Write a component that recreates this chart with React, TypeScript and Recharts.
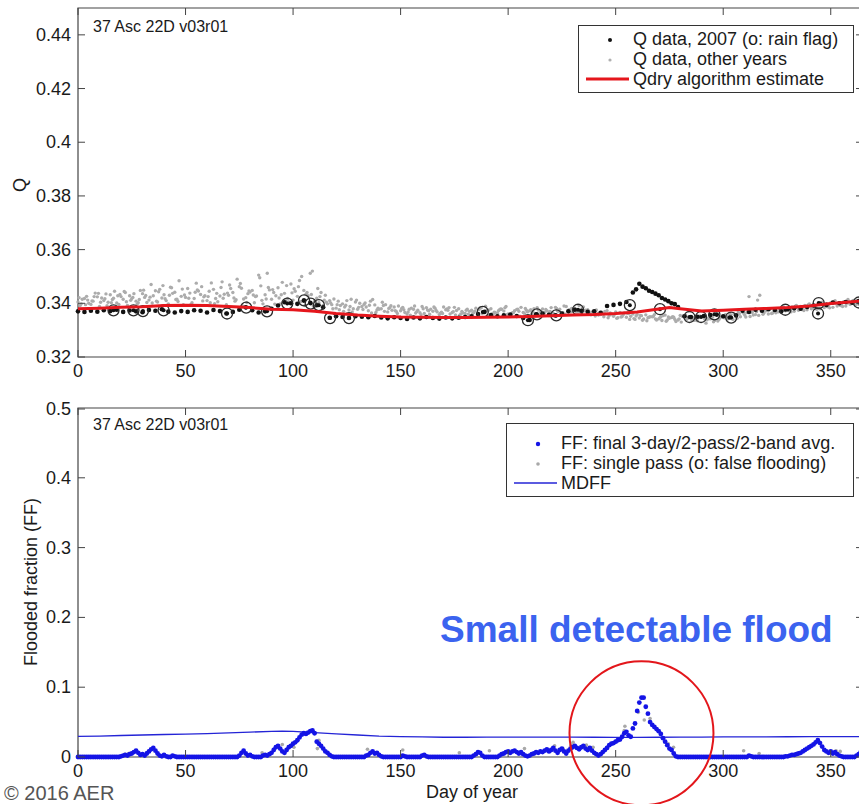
import React from 'react';
import { ComposedChart, Scatter, XAxis, YAxis, ReferenceArea, ReferenceDot, Legend } from 'recharts';

const FONT = '"Liberation Sans", Arial, Helvetica, sans-serif';
const AXIS = '#444';
const INK = '#1a1a1a';
const PLOT_RIGHT = 863;
const PLOT_TOP = 8;

const DAY_TICKS = [0, 50, 100, 150, 200, 250, 300, 350];
const Q_TICKS = [0.32, 0.34, 0.36, 0.38, 0.4, 0.42, 0.44];
const FF_TICKS = [0, 0.1, 0.2, 0.3, 0.4, 0.5];

// Qdry algorithm estimate [day, Q]
const qdry: [number, number][] = [
  [0, 0.338], [10, 0.3382], [20, 0.3385], [30, 0.3387], [40, 0.3392], [50, 0.3393], [60, 0.3392],
  [70, 0.3388], [80, 0.3384], [90, 0.3378], [100, 0.3376], [110, 0.337], [120, 0.3362], [130, 0.3356],
  [140, 0.3352], [150, 0.3349], [160, 0.3348], [170, 0.3347], [180, 0.3347], [190, 0.3348], [200, 0.3349],
  [210, 0.3351], [220, 0.3354], [230, 0.3356], [240, 0.3358], [250, 0.3362], [260, 0.3368], [270, 0.3379],
  [275, 0.3384], [280, 0.338], [290, 0.3371], [300, 0.3374], [310, 0.3378], [320, 0.3381], [330, 0.3384],
  [340, 0.339], [350, 0.3399], [360, 0.3406], [365, 0.3409],
];

// Q data, 2007 [day, Q]
const q2007: [number, number][] = [
  [0, 0.337], [3, 0.3368], [6, 0.3372], [9, 0.3369], [12, 0.3374], [15, 0.3371], [18, 0.3376], [21, 0.3368],
  [24, 0.3373], [27, 0.337], [30, 0.3367], [33, 0.3375], [36, 0.3372], [39, 0.3378], [42, 0.3369], [45, 0.3366],
  [48, 0.3371], [51, 0.3368], [54, 0.3374], [57, 0.3372], [60, 0.3366], [63, 0.3375], [66, 0.3371], [69, 0.3362],
  [72, 0.3368], [75, 0.3376], [78, 0.3385], [81, 0.3374], [84, 0.3366], [87, 0.337], [90, 0.338], [93, 0.3392],
  [96, 0.3404], [99, 0.34], [102, 0.3398], [105, 0.341], [108, 0.3402], [111, 0.3393], [114, 0.3385], [117, 0.3346],
  [120, 0.3352], [123, 0.3349], [126, 0.3345], [129, 0.3352], [132, 0.335], [135, 0.3348], [138, 0.3353], [141, 0.3347],
  [144, 0.3344], [147, 0.3348], [150, 0.3345], [153, 0.3342], [156, 0.3347], [159, 0.3344], [162, 0.3349], [165, 0.3345],
  [168, 0.3343], [171, 0.3347], [174, 0.3344], [177, 0.3346], [180, 0.3349], [183, 0.3352], [186, 0.336], [189, 0.3368],
  [192, 0.3356], [195, 0.3352], [198, 0.3355], [201, 0.3358], [204, 0.3353], [207, 0.3345], [210, 0.3338], [213, 0.3359],
  [216, 0.3362], [219, 0.3357], [222, 0.3355], [225, 0.3362], [228, 0.337], [231, 0.3376], [234, 0.3372], [237, 0.3368],
  [240, 0.337], [243, 0.3365], [246, 0.339], [249, 0.3394], [252, 0.3398], [255, 0.3405], [258, 0.344], [259.5, 0.3452],
  [261, 0.3473], [262.5, 0.3462], [264, 0.3456], [265.5, 0.3447], [267, 0.3442], [268.5, 0.3436], [270, 0.343],
  [271.5, 0.342], [273, 0.3414], [274.5, 0.3408], [276, 0.34], [277.5, 0.3397], [279, 0.3386], [282, 0.3352],
  [285, 0.3349], [288, 0.335], [291, 0.3353], [294, 0.3356], [297, 0.3358], [300, 0.3352], [303, 0.3347], [306, 0.3355],
  [309, 0.3372], [312, 0.3368], [315, 0.3376], [318, 0.3372], [321, 0.3378], [324, 0.3375], [327, 0.337], [330, 0.3378],
  [333, 0.3382], [336, 0.338], [339, 0.3386], [342, 0.3392], [345, 0.3398], [348, 0.3394], [351, 0.3403], [354, 0.34],
  [357, 0.3405], [360, 0.3402], [363, 0.3408],
];

// 2007 points with rain flag (o) [day, Q]
const rainFlag: [number, number][] = [
  [16.5, 0.3374], [25.8, 0.3374], [30.2, 0.3371], [39.8, 0.3374], [69.3, 0.3362], [78.2, 0.3384], [87.9, 0.337],
  [97.3, 0.3399], [105.1, 0.3411], [108.2, 0.3399], [112, 0.3393], [117.2, 0.3345], [126, 0.3345], [188.2, 0.3368],
  [209.2, 0.3337], [213.4, 0.3359], [222.4, 0.3355], [232.5, 0.3376], [256.6, 0.3393], [270.6, 0.3378], [284.3, 0.3349],
  [289.7, 0.3349], [295.9, 0.3359], [303.7, 0.3347], [328.9, 0.3376], [344.4, 0.3401], [344.1, 0.3362], [363.1, 0.3403],
];

// Q data, other years: interleaved records, one every 3rd day, each starting on its own day
const qOtherA = [
  0.3405, 0.3418, 0.3396, 0.3424, 0.341, 0.3432, 0.3401, 0.3415, 0.3428, 0.3408,
  0.3436, 0.3412, 0.3447, 0.342, 0.3398, 0.3441, 0.3426, 0.3455, 0.3418, 0.3433,
  0.341, 0.3452, 0.3427, 0.3395, 0.344, 0.3462, 0.3421, 0.3448, 0.3505, 0.3432,
  0.3415, 0.3458, 0.3437, 0.3472, 0.3426, 0.3448, 0.3512, 0.3419, 0.3392, 0.341,
  0.3382, 0.3398, 0.3375, 0.3405, 0.3388, 0.3372, 0.3394, 0.338, 0.3368, 0.3386,
  0.3372, 0.336, 0.3378, 0.3365, 0.3384, 0.337, 0.3358, 0.3376, 0.3366, 0.338,
  0.3362, 0.3374, 0.3357, 0.3368, 0.338, 0.3363, 0.3371, 0.3355, 0.3377, 0.3366,
  0.3372, 0.336, 0.3379, 0.3368, 0.3385, 0.3364, 0.3374, 0.3382, 0.3361, 0.3376,
  0.3365, 0.3358, 0.3372, 0.3352, 0.3366, 0.3348, 0.336, 0.3345, 0.3357, 0.335,
  0.3342, 0.3356, 0.3347, 0.3338, 0.3352, 0.3344, 0.3335, 0.335, 0.3342, 0.3356,
  0.3348, 0.3362, 0.3352, 0.3368, 0.3425, 0.3358, 0.3372, 0.336, 0.3378, 0.3366,
  0.3382, 0.337, 0.3388, 0.3376, 0.3392, 0.338, 0.3398, 0.3385, 0.3402, 0.339,
  0.3408, 0.3396,
];
const qOtherB = [
  0.3392, 0.3426, 0.3408, 0.3388, 0.3435, 0.3414, 0.3396, 0.344, 0.3418, 0.3402,
  0.3422, 0.347, 0.3405, 0.3432, 0.346, 0.3415, 0.3395, 0.3438, 0.3475, 0.3409,
  0.3445, 0.3418, 0.348, 0.343, 0.3408, 0.3456, 0.3436, 0.3402, 0.3465, 0.3512,
  0.344, 0.3398, 0.3466, 0.3412, 0.3485, 0.3434, 0.352, 0.3402, 0.343, 0.3395,
  0.3408, 0.3386, 0.3415, 0.3378, 0.3396, 0.3408, 0.3375, 0.3392, 0.3384, 0.337,
  0.3385, 0.3378, 0.3364, 0.3388, 0.3372, 0.3382, 0.3367, 0.3374, 0.3385, 0.336,
  0.3378, 0.3366, 0.3384, 0.3372, 0.3358, 0.3376, 0.3388, 0.3365, 0.337, 0.3381,
  0.3362, 0.3375, 0.3366, 0.3384, 0.3371, 0.339, 0.3368, 0.3373, 0.3386, 0.3364,
  0.3375, 0.3362, 0.3355, 0.3368, 0.3351, 0.3362, 0.334, 0.3354, 0.3346, 0.3358,
  0.335, 0.3338, 0.3348, 0.3355, 0.334, 0.3346, 0.3352, 0.3326, 0.3348, 0.334,
  0.3358, 0.3345, 0.3368, 0.3356, 0.3374, 0.3412, 0.3365, 0.338, 0.337, 0.3386,
  0.3375, 0.3392, 0.3382, 0.3398, 0.3386, 0.3404, 0.3392, 0.341, 0.3396, 0.3414,
  0.3402, 0.3418,
];
const qOtherC = [
  0.3415, 0.34, 0.3438, 0.342, 0.3404, 0.3445, 0.3425, 0.3392, 0.3436, 0.3448,
  0.3403, 0.3428, 0.3452, 0.341, 0.3437, 0.3484, 0.3422, 0.3402, 0.3446, 0.3428,
  0.3476, 0.3406, 0.3434, 0.3455, 0.349, 0.3416, 0.3442, 0.3427, 0.3398, 0.345,
  0.3428, 0.3478, 0.3405, 0.3445, 0.35, 0.3428, 0.3408, 0.344, 0.3398, 0.3416,
  0.3392, 0.341, 0.338, 0.34, 0.3386, 0.3414, 0.3378, 0.3395, 0.3374, 0.339,
  0.3366, 0.3382, 0.3374, 0.3362, 0.3378, 0.3368, 0.3386, 0.336, 0.3373, 0.3364,
  0.337, 0.3382, 0.3362, 0.3375, 0.3366, 0.3378, 0.336, 0.3372, 0.3385, 0.3368,
  0.338, 0.3366, 0.3372, 0.3362, 0.3378, 0.3388, 0.337, 0.3392, 0.3374, 0.3368,
  0.3356, 0.337, 0.336, 0.3346, 0.3364, 0.3352, 0.3358, 0.3342, 0.335, 0.3338,
  0.3354, 0.3344, 0.3332, 0.3352, 0.3345, 0.3338, 0.335, 0.3343, 0.3336, 0.335,
  0.3342, 0.336, 0.335, 0.3366, 0.3356, 0.343, 0.3372, 0.3364, 0.338, 0.3372,
  0.3386, 0.3374, 0.3392, 0.338, 0.3396, 0.3384, 0.3402, 0.339, 0.3406, 0.3396,
  0.3412,
];
const qOtherD = [
  0.3398, 0.3412, 0.3425, 0.3404, 0.3391, 0.3419, 0.3433, 0.3406, 0.3422, 0.3414,
  0.3429, 0.3401, 0.3443, 0.3417, 0.3458, 0.3407, 0.3431, 0.3396, 0.345, 0.3424,
  0.3402, 0.3437, 0.3419, 0.3468, 0.3413, 0.339, 0.3446, 0.3425, 0.3411, 0.3459,
  0.3397, 0.3432, 0.3418, 0.3454, 0.3406, 0.344, 0.3389, 0.3425, 0.3404, 0.338,
  0.3376, 0.3393, 0.3368, 0.3385, 0.3401, 0.3364, 0.3382, 0.337, 0.3391, 0.3362,
  0.3376, 0.3356, 0.3369, 0.338, 0.3359, 0.3373, 0.3362, 0.3384, 0.3357, 0.337,
  0.3359, 0.3371, 0.3383, 0.3354, 0.3367, 0.3379, 0.3358, 0.3366, 0.3352, 0.3374,
  0.3368, 0.3356, 0.3377, 0.3361, 0.337, 0.3359, 0.3381, 0.3366, 0.3372, 0.3357,
  0.3361, 0.335, 0.3364, 0.3344, 0.3357, 0.334, 0.3353, 0.3337, 0.3348, 0.3342,
  0.3336, 0.3349, 0.334, 0.333, 0.3345, 0.3337, 0.3352, 0.3339, 0.3331, 0.3346,
  0.3352, 0.334, 0.3361, 0.3349, 0.3366, 0.3355, 0.3374, 0.3362, 0.3368, 0.3377,
  0.3368, 0.3384, 0.3373, 0.339, 0.3378, 0.3395, 0.3383, 0.3399, 0.3388, 0.3405,
  0.3394, 0.341,
];
const qOtherE = [
  0.3421, 0.3395, 0.3409, 0.3437, 0.3417, 0.3402, 0.3428, 0.3444, 0.3411, 0.3397,
  0.3449, 0.3423, 0.3408, 0.3466, 0.343, 0.3414, 0.3453, 0.3419, 0.3441, 0.3462,
  0.3425, 0.3399, 0.3459, 0.3438, 0.342, 0.3474, 0.3403, 0.3431, 0.3495, 0.3416,
  0.3451, 0.342, 0.341, 0.3439, 0.3462, 0.3392, 0.3433, 0.3455, 0.3412, 0.3401,
  0.3395, 0.337, 0.3388, 0.3412, 0.3377, 0.3393, 0.3366, 0.3404, 0.3381, 0.3372,
  0.3381, 0.3368, 0.339, 0.3358, 0.3375, 0.3386, 0.3363, 0.3379, 0.3369, 0.3356,
  0.3374, 0.3362, 0.3377, 0.3389, 0.336, 0.3372, 0.3383, 0.3357, 0.3378, 0.3363,
  0.3376, 0.3384, 0.3358, 0.337, 0.3381, 0.3365, 0.3376, 0.3362, 0.3383, 0.3371,
  0.3353, 0.3367, 0.3346, 0.3359, 0.3349, 0.3363, 0.3343, 0.3355, 0.3335, 0.3351,
  0.3345, 0.3333, 0.335, 0.3342, 0.3355, 0.3336, 0.3347, 0.3341, 0.3352, 0.3334,
  0.3346, 0.3357, 0.3344, 0.3363, 0.3351, 0.3369, 0.3359, 0.3376, 0.3365, 0.3382,
  0.3372, 0.3389, 0.3377, 0.3394, 0.3381, 0.34, 0.3387, 0.3406, 0.3392, 0.34,
  0.3411, 0.3399,
];

// FF: final 3-day/2-pass/2-band avg., one value per day from day 0 to 365
const ffFinal = [
  0, 0, 0, 0, 0, 0, 0, 0, 0, 0,
  0, 0, 0, 0, 0, 0, 0, 0, 0, 0,
  0.001, 0.002, 0.003, 0.002, 0.004, 0.005, 0.007, 0.009, 0.006, 0.003,
  0.004, 0.002, 0.005, 0.008, 0.011, 0.013, 0.009, 0.005, 0.002, 0.001,
  0.003, 0.001, 0, 0, 0.002, 0.001, 0, 0, 0, 0,
  0, 0, 0, 0, 0, 0, 0, 0, 0, 0,
  0, 0, 0, 0, 0, 0, 0, 0, 0, 0,
  0, 0, 0, 0, 0, 0.002, 0.006, 0.009, 0.005, 0.002,
  0.003, 0.001, 0, 0, 0, 0, 0.002, 0.003, 0.002, 0.004,
  0.006, 0.01, 0.014, 0.016, 0.012, 0.008, 0.006, 0.01, 0.014, 0.016,
  0.019, 0.021, 0.024, 0.028, 0.032, 0.034, 0.033, 0.035, 0.037, 0.038,
  0.034, 0.022, 0.019, 0.016, 0.012, 0.008, 0.006, 0.003, 0.001, 0,
  0, 0, 0, 0, 0, 0, 0, 0, 0, 0,
  0, 0, 0, 0, 0.002, 0.003, 0.006, 0.008, 0.005, 0.006,
  0.003, 0.001, 0, 0, 0, 0, 0, 0, 0, 0,
  0, 0.002, 0.001, 0, 0, 0, 0, 0, 0, 0,
  0.002, 0.003, 0.001, 0, 0, 0, 0, 0, 0, 0,
  0, 0, 0, 0, 0, 0, 0, 0, 0, 0,
  0, 0, 0, 0, 0.002, 0.004, 0.007, 0.006, 0.002, 0,
  0, 0, 0, 0, 0, 0, 0.002, 0.004, 0.005, 0.007,
  0.008, 0.006, 0.008, 0.009, 0.007, 0.005, 0.007, 0.004, 0.002, 0.001,
  0.002, 0.004, 0.005, 0.007, 0.006, 0.008, 0.007, 0.009, 0.011, 0.008,
  0.01, 0.013, 0.009, 0.006, 0.01, 0.012, 0.008, 0.005, 0.009, 0.012,
  0.014, 0.016, 0.013, 0.011, 0.014, 0.016, 0.012, 0.01, 0.013, 0.009,
  0.006, 0.004, 0.002, 0.004, 0.007, 0.01, 0.013, 0.017, 0.019, 0.02,
  0.022, 0.024, 0.025, 0.029, 0.034, 0.036, 0.031, 0.029, 0.041, 0.048,
  0.066, 0.078, 0.085, 0.085, 0.072, 0.062, 0.05, 0.046, 0.043, 0.04,
  0.037, 0.033, 0.027, 0.022, 0.017, 0.012, 0.01, 0.005, 0.001, 0,
  0, 0, 0, 0, 0, 0, 0, 0, 0, 0,
  0, 0, 0, 0, 0, 0, 0, 0, 0, 0,
  0, 0, 0, 0, 0, 0, 0, 0, 0, 0,
  0, 0, 0.002, 0.001, 0, 0, 0, 0, 0, 0,
  0, 0, 0, 0, 0, 0, 0, 0, 0, 0.001,
  0.001, 0.002, 0.003, 0.003, 0.004, 0.005, 0.006, 0.008, 0.01, 0.012,
  0.014, 0.016, 0.018, 0.021, 0.024, 0.02, 0.015, 0.01, 0.008, 0.006,
  0.008, 0.005, 0.007, 0.004, 0.002, 0.001, 0, 0, 0, 0,
  0, 0, 0.002, 0.004, 0.007, 0.005,
];

// FF: single pass [day, FF]
const ffSingle: [number, number][] = [
  [21.7, 0.004], [23.5, 0.005], [29.5, 0.004], [32, 0.006], [85.6, 0.006], [95, 0.018], [100.4, 0.014],
  [111.3, 0.012], [112, 0.024], [134.6, 0.011], [151, 0.01], [177.3, 0.006], [191.3, 0.009], [207.6, 0.012],
  [221.6, 0.016], [225.5, 0.012], [229.3, 0.017], [230.2, 0.021], [236.4, 0.017], [239.5, 0.014], [254, 0.038],
  [254.3, 0.044], [260.5, 0.064], [263.3, 0.053], [266, 0.055], [274.5, 0.019], [276.9, 0.014], [309.5, 0.009],
  [316.7, 0.005], [352.5, 0.009], [354.4, 0.008],
];

// MDFF [day, FF]
const mdff: [number, number][] = [
  [0, 0.0295], [10, 0.03], [20, 0.0308], [30, 0.0315], [40, 0.0322], [50, 0.0328], [60, 0.0335], [70, 0.0345],
  [80, 0.0356], [90, 0.0367], [95, 0.037], [100, 0.0368], [110, 0.035], [120, 0.033], [130, 0.0315], [140, 0.03],
  [150, 0.0292], [160, 0.0287], [170, 0.0283], [180, 0.0283], [190, 0.0284], [200, 0.0285], [210, 0.0286],
  [220, 0.0286], [230, 0.0285], [240, 0.0283], [250, 0.0282], [260, 0.0282], [270, 0.0283], [280, 0.0285],
  [290, 0.0286], [300, 0.0288], [310, 0.0289], [320, 0.0289], [330, 0.029], [340, 0.0291], [350, 0.0292],
  [360, 0.0293], [365, 0.0293],
];

const pairs = (rows: [number, number][]) => rows.map(([x, y]) => ({ x, y }));
const every3 = (vals: number[], start: number) => vals.map((y, i) => ({ x: start + i * 3, y }));

const otherYears = [
  ...every3(qOtherA, 0),
  ...every3(qOtherB, 1),
  ...every3(qOtherC, 2),
  ...every3(qOtherD, 1.5),
  ...every3(qOtherE, 0.5),
];
const finalDaily = ffFinal.map((y, x) => ({ x, y }));

const xTick = (p: any) => (
  <g>
    <line x1={p.x} y1={p.y} x2={p.x} y2={p.y - 7} stroke={AXIS} />
    <line x1={p.x} y1={PLOT_TOP} x2={p.x} y2={PLOT_TOP + 7} stroke={AXIS} />
    <text x={p.x} y={p.y + 20} textAnchor="middle" fontSize={18} fontFamily={FONT} fill={INK}>
      {p.payload.value}
    </text>
  </g>
);

const yTick = (p: any) => (
  <g>
    <line x1={p.x} y1={p.y} x2={p.x + 7} y2={p.y} stroke={AXIS} />
    <line x1={PLOT_RIGHT} y1={p.y} x2={PLOT_RIGHT - 7} y2={p.y} stroke={AXIS} />
    <text x={p.x - 7} y={p.y + 6} textAnchor="end" fontSize={18} fontFamily={FONT} fill={INK}>
      {p.payload.value}
    </text>
  </g>
);

const dot = (r: number, fill: string) => (p: any) => <circle cx={p.cx} cy={p.cy} r={r} fill={fill} />;
const ring = (p: any) => (
  <g>
    <circle cx={p.cx} cy={p.cy} r={5.5} fill="none" stroke="#2a2a2a" strokeWidth={1.3} />
    <circle cx={p.cx} cy={p.cy} r={2} fill="#111" />
  </g>
);
const noShape = () => <g />;

type LegendRow = { label: string; kind: 'dot' | 'line'; color: string; r?: number; w?: number };

function LegendBox({ rows, padTop, width }: { rows: LegendRow[]; padTop: number; width: number }) {
  return (
    <div
      style={{
        width,
        boxSizing: 'border-box',
        border: '1px solid #333',
        background: '#fff',
        padding: `${padTop}px 0 3px 0`,
        fontFamily: FONT,
        fontSize: 18,
        color: INK,
        whiteSpace: 'nowrap',
      }}
    >
      {rows.map((row) => (
        <div key={row.label} style={{ display: 'flex', alignItems: 'center', height: 20 }}>
          <svg width={54} height={20} style={{ flex: 'none' }}>
            {row.kind === 'dot' ? (
              <circle cx={31} cy={11} r={row.r} fill={row.color} />
            ) : (
              <line x1={7} y1={10} x2={50} y2={10} stroke={row.color} strokeWidth={row.w} />
            )}
          </svg>
          <span style={{ lineHeight: '20px' }}>{row.label}</span>
        </div>
      ))}
    </div>
  );
}

const topLegend: LegendRow[] = [
  { label: 'Q data, 2007 (o: rain flag)', kind: 'dot', color: '#111', r: 2 },
  { label: 'Q data, other years', kind: 'dot', color: '#b0b0b0', r: 1.6 },
  { label: 'Qdry algorithm estimate', kind: 'line', color: '#e5161c', w: 3 },
];
const bottomLegend: LegendRow[] = [
  { label: 'FF: final 3-day/2-pass/2-band avg.', kind: 'dot', color: '#1414e6', r: 2.2 },
  { label: 'FF: single pass (o: false flooding)', kind: 'dot', color: '#a8a8a8', r: 1.8 },
  { label: 'MDFF', kind: 'line', color: '#2424d6', w: 1.3 },
];

export default function App() {
  return (
    <div
      style={{
        position: 'absolute',
        left: 0,
        top: 0,
        width: 859,
        height: 804,
        overflow: 'hidden',
        background: '#fff',
        fontFamily: FONT,
      }}
    >
      <div style={{ position: 'absolute', left: 0, top: 0 }}>
        <ComposedChart width={877} height={400} margin={{ top: 8, right: 14, bottom: 13, left: 18 }}>
          <XAxis
            type="number"
            dataKey="x"
            domain={[0, 365]}
            ticks={DAY_TICKS}
            height={30}
            tickSize={0}
            tickMargin={0}
            axisLine={false}
            tickLine={false}
            tick={xTick}
          />
          <YAxis
            type="number"
            dataKey="y"
            domain={[0.32, 0.45]}
            ticks={Q_TICKS}
            width={60}
            tickSize={0}
            tickMargin={0}
            axisLine={false}
            tickLine={false}
            tick={yTick}
          />
          <ReferenceArea x1={0} x2={365} y1={0.32} y2={0.45} fill="none" stroke={AXIS} strokeWidth={1.2} />
          <Scatter data={otherYears} shape={dot(1.7, '#acacac')} isAnimationActive={false} />
          <Scatter data={pairs(q2007)} shape={dot(2.3, '#111')} isAnimationActive={false} />
          <Scatter data={pairs(rainFlag)} shape={ring} isAnimationActive={false} />
          <Scatter
            data={pairs(qdry)}
            shape={noShape}
            line={{ stroke: '#e5161c', strokeWidth: 3 }}
            isAnimationActive={false}
          />
          <Legend
            layout="horizontal"
            verticalAlign="middle"
            align="center"
            wrapperStyle={{ left: 578, top: 25, width: 276 }}
            content={() => <LegendBox rows={topLegend} padTop={3} width={276} />}
          />
        </ComposedChart>
      </div>

      <div style={{ position: 'absolute', left: 0, top: 400 }}>
        <ComposedChart width={877} height={404} margin={{ top: 8, right: 14, bottom: 17, left: 18 }}>
          <XAxis
            type="number"
            dataKey="x"
            domain={[0, 365]}
            ticks={DAY_TICKS}
            height={30}
            tickSize={0}
            tickMargin={0}
            axisLine={false}
            tickLine={false}
            tick={xTick}
          />
          <YAxis
            type="number"
            dataKey="y"
            domain={[0, 0.5]}
            ticks={FF_TICKS}
            width={60}
            tickSize={0}
            tickMargin={0}
            axisLine={false}
            tickLine={false}
            tick={yTick}
          />
          <ReferenceArea x1={0} x2={365} y1={0} y2={0.5} fill="none" stroke={AXIS} strokeWidth={1.2} />
          <Scatter
            data={pairs(mdff)}
            shape={noShape}
            line={{ stroke: '#2424d6', strokeWidth: 1.3 }}
            isAnimationActive={false}
          />
          <Scatter data={pairs(ffSingle)} shape={dot(1.8, '#a8a8a8')} isAnimationActive={false} />
          <Scatter data={finalDaily} shape={dot(2.4, '#1414e6')} isAnimationActive={false} />
          <ReferenceDot x={262} y={0.034} r={72} fill="none" stroke="#e3161b" strokeWidth={2} />
          <Legend
            layout="horizontal"
            verticalAlign="middle"
            align="center"
            wrapperStyle={{ left: 506, top: 23, width: 348 }}
            content={() => <LegendBox rows={bottomLegend} padTop={9} width={348} />}
          />
        </ComposedChart>
      </div>

      <svg
        width={859}
        height={804}
        style={{ position: 'absolute', left: 0, top: 0, pointerEvents: 'none' }}
        fontFamily={FONT}
      >
        <text x={93} y={32} fontSize={16} fill={INK}>37 Asc 22D v03r01</text>
        <text x={93} y={430} fontSize={16} fill={INK}>37 Asc 22D v03r01</text>
        <text transform="translate(26,185) rotate(-90)" textAnchor="middle" fontSize={18} fill={INK}>Q</text>
        <text transform="translate(37,582) rotate(-90)" textAnchor="middle" fontSize={18} fill={INK}>
          Flooded fraction (FF)
        </text>
        <text x={472} y={798} textAnchor="middle" fontSize={18} fill={INK}>Day of year</text>
        <text x={4} y={800} fontSize={20} fill="#555">© 2016 AER</text>
        <text x={440} y={642} fontSize={37} fontWeight="bold" fill="#3b63ef">Small detectable flood</text>
      </svg>
    </div>
  );
}
